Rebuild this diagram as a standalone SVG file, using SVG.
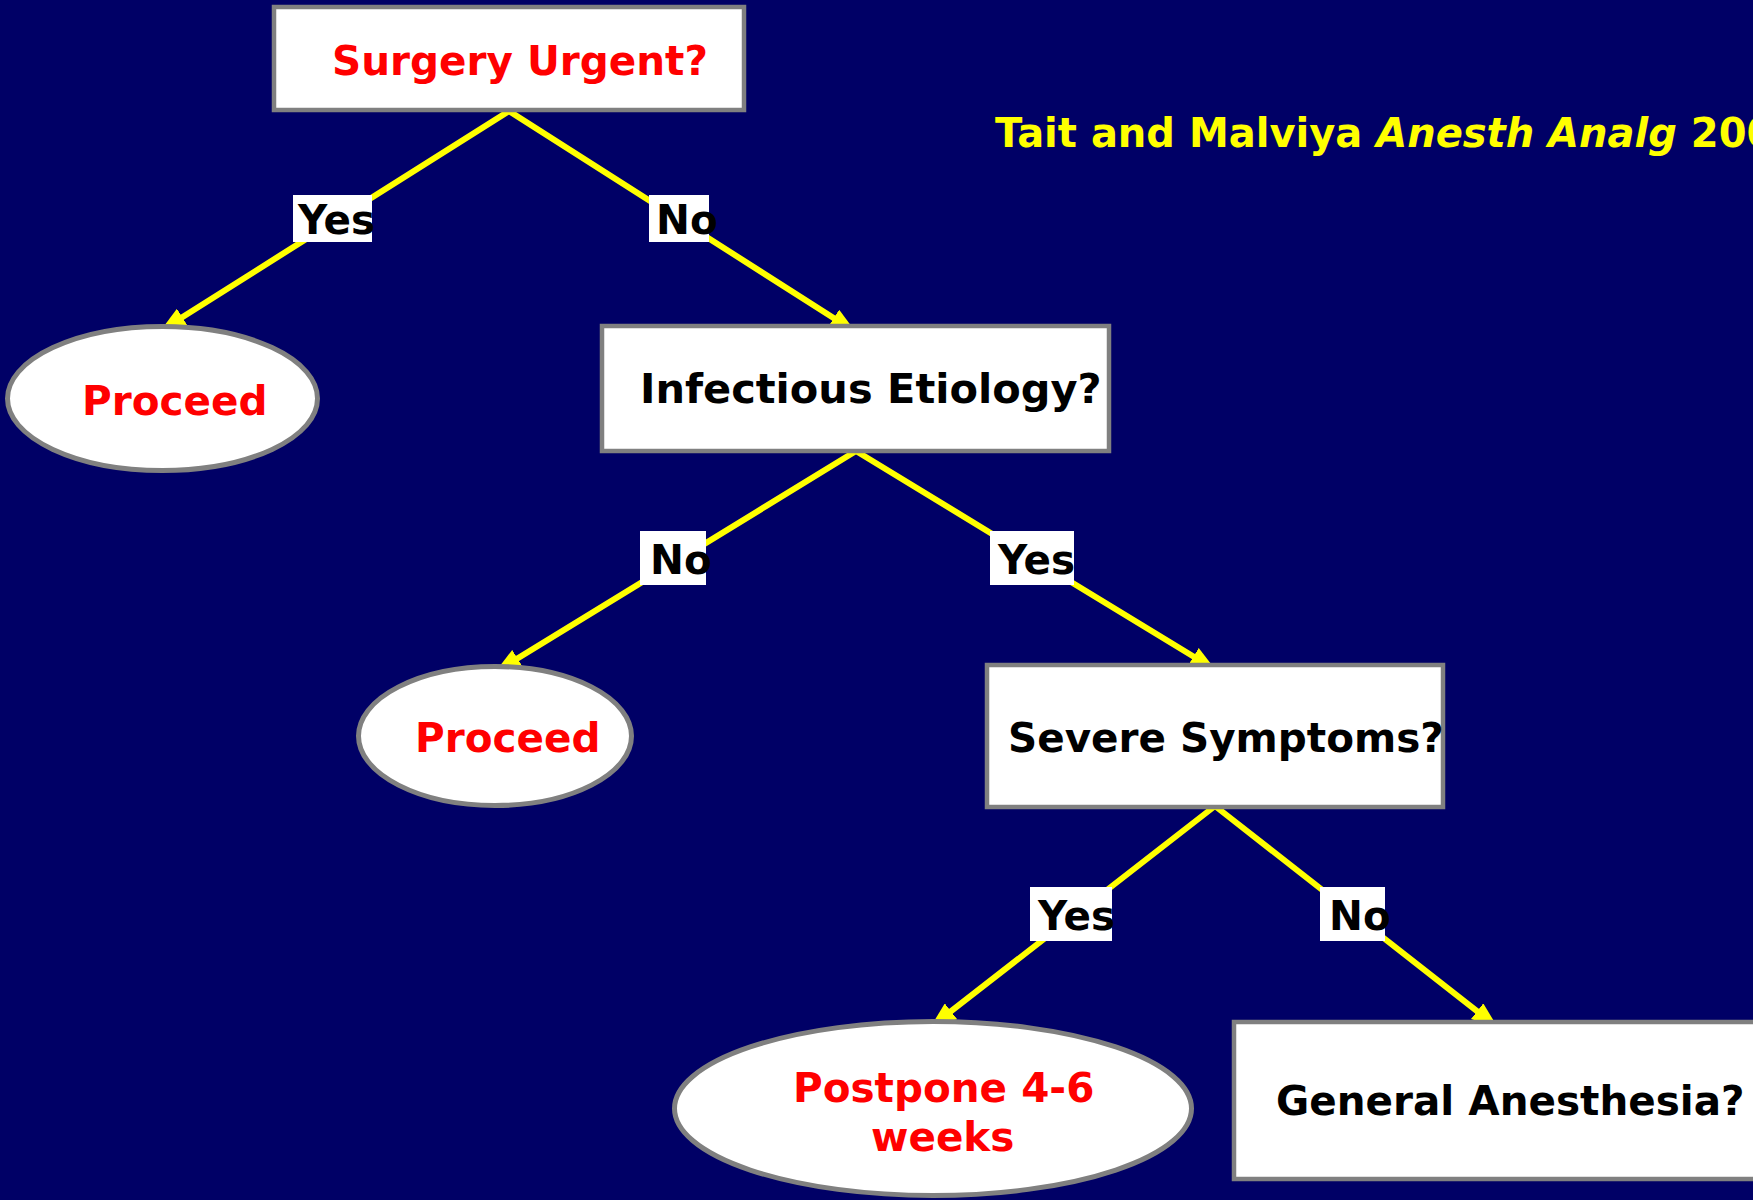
<svg xmlns="http://www.w3.org/2000/svg" width="1753" height="1200" viewBox="0 0 1753 1200">
<defs>
<style>
.bg{fill:#000066}
.box{fill:#ffffff;stroke:#808080;stroke-width:4.5}
.ell{fill:#ffffff;stroke:#808080;stroke-width:5}
.t{font-family:"DejaVu Sans","Verdana",sans-serif;font-weight:bold;font-size:40.5px}
.red{fill:#ff0000}
.blk{fill:#000000}
.cite{font-family:"DejaVu Sans","Verdana",sans-serif;font-weight:bold;font-size:40px;fill:#ffff00}
.edge{stroke:#ffff00;stroke-width:6;fill:none;stroke-linecap:round;marker-end:url(#arr)}
.lbl{fill:#ffffff}
</style>
<marker id="arr" markerUnits="userSpaceOnUse" viewBox="0 0 26 20" refX="24" refY="10" markerWidth="26" markerHeight="20" orient="auto">
<path d="M0,0 L26,10 L0,20 Z" fill="#ffff00"/>
</marker>
</defs>
<rect class="bg" x="0" y="0" width="1753" height="1200"/>

<g id="citation">
<text class="cite" x="995" y="147">Tait and Malviya <tspan font-style="italic">Anesth Analg</tspan> 2005</text>
</g>

<g id="connectors">
<line class="edge" x1="509" y1="111" x2="162" y2="330"/>
<line class="edge" x1="509" y1="111" x2="854" y2="331"/>
<line class="edge" x1="856" y1="451" x2="497" y2="671"/>
<line class="edge" x1="856" y1="451" x2="1214" y2="669"/>
<line class="edge" x1="1215" y1="806" x2="932" y2="1026"/>
<line class="edge" x1="1215" y1="806" x2="1496" y2="1026"/>
</g>

<g id="edge-labels">
<g id="lbl-yes-1"><rect class="lbl" x="293" y="195" width="79" height="47"/><text class="t blk" x="298" y="234">Yes</text></g>
<g id="lbl-no-1"><rect class="lbl" x="649" y="195" width="60" height="47"/><text class="t blk" x="656" y="234">No</text></g>
<g id="lbl-no-2"><rect class="lbl" x="640" y="531" width="66" height="54"/><text class="t blk" x="650" y="574">No</text></g>
<g id="lbl-yes-2"><rect class="lbl" x="990" y="531" width="84" height="54"/><text class="t blk" x="998" y="574">Yes</text></g>
<g id="lbl-yes-3"><rect class="lbl" x="1030" y="887" width="82" height="54"/><text class="t blk" x="1038" y="930">Yes</text></g>
<g id="lbl-no-3"><rect class="lbl" x="1320" y="887" width="65" height="54"/><text class="t blk" x="1329" y="930">No</text></g>
</g>

<g id="surgery-urgent">
<rect class="box" x="274" y="7" width="470" height="103"/>
<text class="t red" x="332" y="75">Surgery Urgent?</text>
</g>

<g id="proceed-1">
<ellipse class="ell" cx="162.5" cy="398.5" rx="155" ry="72"/>
<text class="t red" x="82" y="415">Proceed</text>
</g>

<g id="infectious-etiology">
<rect class="box" x="602" y="326" width="507" height="125"/>
<text class="t blk" x="640" y="403" style="font-size:41.5px">Infectious Etiology?</text>
</g>

<g id="proceed-2">
<ellipse class="ell" cx="495" cy="736" rx="136.5" ry="69.5"/>
<text class="t red" x="415" y="752">Proceed</text>
</g>

<g id="severe-symptoms">
<rect class="box" x="987" y="665" width="456" height="142"/>
<text class="t blk" x="1008" y="752">Severe Symptoms?</text>
</g>

<g id="postpone">
<ellipse class="ell" cx="933" cy="1108.5" rx="258.5" ry="87"/>
<text class="t red" x="793" y="1102">Postpone 4-6</text>
<text class="t red" x="871" y="1151">weeks</text>
</g>

<g id="general-anesthesia">
<rect class="box" x="1234" y="1022" width="600" height="157"/>
<text class="t blk" x="1276" y="1115">General Anesthesia?</text>
</g>
</svg>
